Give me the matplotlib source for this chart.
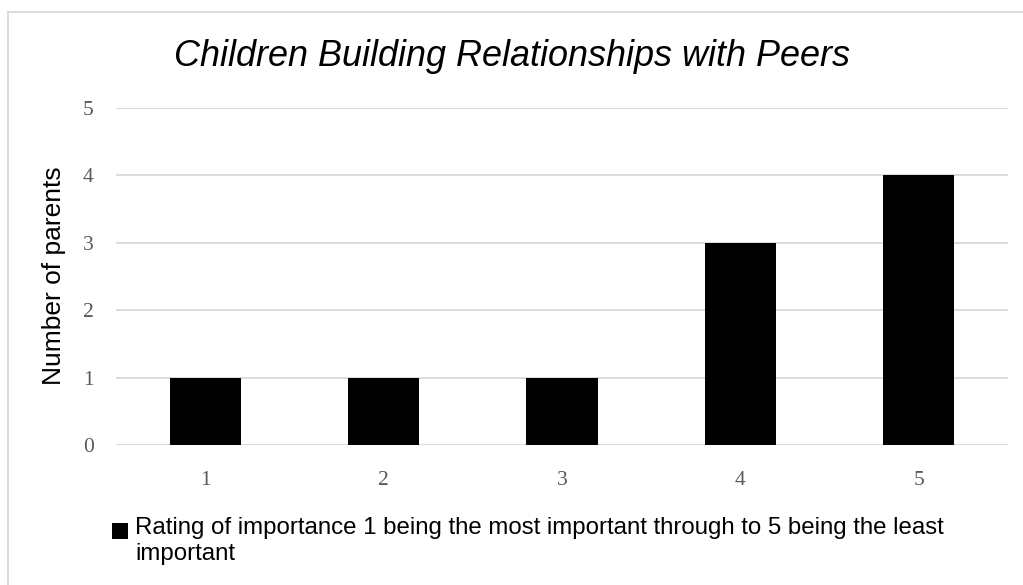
import matplotlib.pyplot as plt
from matplotlib.lines import Line2D
from matplotlib.patches import Rectangle

# datos
ratings = ['1', '2', '3', '4', '5']
parents = [1, 1, 1, 3, 4]
y_ticks = [0, 1, 2, 3, 4, 5]
legend_label = 'Rating of importance 1 being the most important through to 5 being the least\nimportant'

W, H = 1023, 585

fig = plt.figure(figsize=(W / 100, H / 100), dpi=100)
ax = fig.add_axes([116 / W, 1 - 445 / H, 892 / W, 337 / H])

x = range(1, len(ratings) + 1)
bars = ax.bar(x, parents, width=0.4, color='black', zorder=3)

ax.set_xlim(0.5, 5.5)
ax.set_ylim(0, 5)
ax.set_xticks(list(x))
ax.set_xticklabels(ratings)
ax.set_yticks(y_ticks)
ax.grid(axis='y', color='#d9d9d9', linewidth=1.3, zorder=0)
for s in ax.spines.values():
    s.set_visible(False)
ax.tick_params(axis='both', length=0, labelsize=15.5, labelcolor='#595959')
ax.tick_params(axis='x', pad=18.5)
ax.tick_params(axis='y', pad=16)
for lab in ax.get_xticklabels() + ax.get_yticklabels():
    lab.set_family('Liberation Serif')

# titulo y etiqueta del eje
fig.text(0.5, 1 - 57 / H, 'Children Building Relationships with Peers',
         ha='center', va='center', fontsize=25.9, style='italic',
         family='Liberation Sans')
fig.text(54 / W, 1 - 276 / H, 'Number of parents', rotation=90,
         ha='center', va='center', fontsize=19, family='Liberation Sans')

# leyenda (cuadro alineado con la primera linea, como en el original)
fig.add_artist(Rectangle((112 / W, 1 - 539 / H), 16 / W, 16 / H,
                         facecolor='black', edgecolor='none',
                         transform=fig.transFigure))
fig.text(135 / W, 1 - 517 / H, legend_label, ha='left', va='top',
         fontsize=17.3, family='Liberation Sans', linespacing=1.24)

# borde del grafico
fig.add_artist(Line2D([8 / W, 1], [1 - 12 / H, 1 - 12 / H],
                      color='#d9d9d9', linewidth=1.3, transform=fig.transFigure))
fig.add_artist(Line2D([8 / W, 8 / W], [0, 1 - 12 / H],
                      color='#d9d9d9', linewidth=1.3, transform=fig.transFigure))

fig.savefig('out.png', dpi=100)
